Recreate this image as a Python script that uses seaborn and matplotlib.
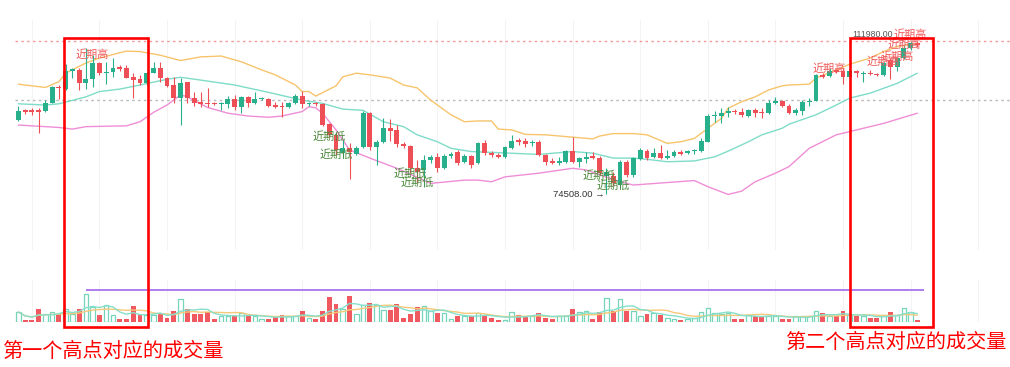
import numpy as np
import pandas as pd
import matplotlib
matplotlib.use("Agg")
import matplotlib.pyplot as plt
from matplotlib.patches import Rectangle
import seaborn as sns

# ---------------- data (prices in thousand USD) ----------------
opens = [92.6, 95.0, 95.0, 95.0, 94.8, 96.9, 100.8, 100.2, 104.7, 104.9,
         101.8, 102.7, 106.5, 104.1, 104.5, 105.5, 105.3, 103.2, 102.6, 101.6,
         104.2, 105.3, 103.0, 101.2, 97.9, 101.9, 97.9, 97.0, 96.9, 96.9,
         96.5, 96.5, 97.8, 95.9, 98.3, 96.7, 97.8, 97.8, 96.3, 96.1,
         95.8, 96.7, 98.5, 96.5, 96.9, 96.5, 91.6, 89.0, 84.5, 85.8,
         84.3, 86.1, 94.4, 86.1, 87.3, 90.7, 90.2, 86.7, 86.3, 80.9,
         80.4, 82.8, 83.6, 80.8, 83.8, 84.8, 82.3, 83.7, 82.2, 87.0,
         84.5, 84.1, 83.6, 85.8, 87.7, 87.5, 86.9, 87.3, 84.1, 82.6,
         82.2, 82.3, 85.0, 82.3, 83.1, 83.9, 83.4, 78.9, 78.9, 76.7,
         82.4, 79.1, 83.1, 85.0, 83.6, 84.5, 83.4, 83.9, 84.9, 84.5,
         85.0, 85.0, 87.3, 93.6, 93.7, 94.3, 94.8, 94.7, 93.7, 95.1,
         94.7, 94.3, 96.7, 97.3, 96.1, 94.3, 94.8, 97.0, 97.3, 103.7,
         103.5, 104.9, 104.6, 103.2, 104.6, 104.0, 104.2, 103.9, 103.7, 107.3,
         105.7, 107.7, 110.2, 111.5]
highs = [96.1, 95.3, 95.5, 95.6, 97.5, 101.0, 101.2, 106.3, 105.4, 105.3,
         110.2, 108.6, 106.9, 106.9, 107.7, 106.1, 106.1, 104.1, 103.7, 104.5,
         106.9, 106.9, 103.2, 103.2, 102.8, 102.0, 99.6, 99.6, 100.5, 97.1,
         97.1, 98.6, 98.8, 98.4, 98.4, 99.4, 98.3, 98.1, 97.1, 97.1,
         97.1, 98.9, 99.7, 97.1, 97.1, 96.8, 91.8, 89.7, 87.7, 87.0,
         86.3, 94.8, 94.6, 87.7, 93.1, 92.9, 91.4, 87.2, 86.5, 82.8,
         84.1, 84.1, 84.5, 84.3, 84.9, 85.3, 84.3, 84.1, 87.2, 87.7,
         85.0, 84.5, 86.3, 89.0, 88.3, 88.1, 87.7, 87.7, 84.3, 83.3,
         83.6, 85.3, 88.5, 83.6, 84.7, 84.7, 83.8, 80.9, 79.9, 82.8,
         82.8, 83.6, 85.8, 85.5, 85.8, 86.5, 85.3, 85.3, 85.2, 85.3,
         85.5, 88.3, 94.0, 94.8, 95.5, 95.9, 95.3, 95.6, 95.3, 95.6,
         95.5, 97.5, 98.3, 97.5, 96.6, 95.6, 97.5, 98.1, 103.9, 104.1,
         105.3, 105.2, 105.3, 104.9, 104.9, 104.6, 104.9, 104.2, 106.9, 107.7,
         108.1, 111.0, 111.98, 111.7]
lows = [92.4, 94.2, 93.9, 89.4, 94.7, 96.7, 97.8, 100.0, 102.9, 100.0,
        100.2, 100.8, 103.7, 101.4, 103.2, 104.6, 102.8, 98.1, 101.2, 101.2,
        104.1, 102.0, 100.8, 96.7, 91.4, 96.7, 96.1, 95.9, 95.9, 96.3,
        95.1, 95.6, 95.1, 94.3, 95.9, 96.5, 97.5, 95.9, 95.6, 93.4,
        95.5, 96.5, 95.5, 96.1, 96.1, 91.2, 88.5, 84.1, 83.3, 78.2,
        84.1, 85.8, 85.3, 81.6, 87.0, 87.6, 86.1, 85.8, 79.6, 77.2,
        76.3, 82.1, 80.0, 80.6, 83.3, 81.6, 82.1, 80.8, 81.9, 84.1,
        83.6, 83.3, 83.3, 85.5, 86.5, 86.1, 86.3, 83.8, 81.6, 81.9,
        81.6, 82.1, 82.1, 81.2, 82.0, 83.1, 79.1, 74.508, 76.5, 76.0,
        78.7, 78.7, 82.8, 82.8, 83.3, 83.1, 83.1, 83.6, 84.1, 84.2,
        84.2, 84.8, 87.2, 92.1, 91.8, 93.4, 94.2, 93.4, 93.4, 93.4,
        93.0, 94.2, 96.5, 95.8, 94.1, 93.9, 93.9, 96.1, 97.2, 103.0,
        103.2, 104.1, 101.4, 102.9, 103.2, 101.9, 103.7, 103.4, 103.5, 102.7,
        104.6, 107.6, 109.8, 110.5]
closes = [94.8, 94.7, 94.6, 94.7, 96.7, 100.8, 100.4, 104.6, 105.1, 101.6,
          102.7, 106.5, 104.1, 104.5, 105.4, 105.1, 103.0, 102.5, 101.6, 104.2,
          105.3, 102.8, 101.0, 97.9, 101.8, 97.9, 96.7, 96.5, 96.5, 96.5,
          96.9, 97.8, 95.7, 98.3, 96.7, 97.8, 98.1, 96.1, 95.9, 95.9,
          96.9, 98.6, 96.5, 96.9, 96.5, 91.4, 89.0, 85.3, 85.8, 84.8,
          85.8, 94.4, 86.1, 87.3, 90.7, 90.0, 86.7, 86.3, 80.9, 79.9,
          82.8, 83.6, 80.8, 83.8, 84.3, 82.1, 83.8, 81.6, 87.0, 84.5,
          84.1, 83.6, 86.0, 87.5, 87.3, 86.7, 87.3, 84.1, 82.4, 82.2,
          82.6, 85.0, 82.3, 83.2, 83.6, 83.4, 79.6, 79.9, 77.2, 82.4,
          79.1, 83.2, 85.3, 83.4, 84.5, 83.2, 83.9, 84.9, 84.4, 85.0,
          85.2, 87.5, 93.7, 93.9, 94.4, 94.8, 94.5, 93.9, 95.1, 94.3,
          94.3, 96.7, 97.3, 96.1, 94.3, 95.0, 97.1, 97.4, 103.7, 103.2,
          104.6, 104.5, 103.2, 104.6, 104.1, 104.2, 103.9, 103.6, 106.5, 105.7,
          107.7, 110.2, 111.6, 111.0]
volumes = [30, 7, 7, 40, 24, 29, 25, 39, 25, 40,
           85, 45, 22, 52, 22, 10, 10, 47, 20, 22,
           20, 25, 12, 34, 70, 39, 25, 24, 30, 10,
           17, 17, 19, 27, 19, 17, 9, 10, 17, 22,
           17, 17, 32, 12, 10, 32, 74, 54, 40, 79,
           24, 52, 57, 52, 35, 37, 55, 12, 25, 45,
           47, 32, 27, 27, 10, 17, 17, 17, 27, 22,
           12, 5, 7, 29, 22, 15, 19, 27, 12, 10,
           19, 19, 39, 29, 32, 10, 29, 73, 34, 70,
           32, 32, 19, 25, 27, 20, 12, 10, 7, 9,
           12, 30, 42, 27, 24, 27, 10, 10, 22, 19,
           19, 19, 17, 10, 10, 17, 17, 17, 32, 27,
           17, 17, 32, 22, 17, 17, 12, 12, 20, 29,
           20, 42, 29, 6]

boll_upper_idx = [0, 4, 6, 7, 10, 12, 15, 16, 18, 21, 24, 27, 30, 33, 36, 38, 41, 42, 43, 44,
                  47, 48, 50, 52, 55, 57, 59, 61, 64, 66, 68, 70, 71, 73, 75, 78, 85, 86, 88, 91,
                  93, 96, 98, 100, 102, 104, 105, 107, 109, 111, 113, 114, 117, 118, 121, 123,
                  126, 128, 130, 133]
boll_upper = [101.4, 100.6, 102.0, 104.1, 106.6, 107.8, 109.1, 109.5, 109.4, 108.5,
              107.2, 108.1, 108.3, 106.9, 104.9, 103.7, 101.2, 99.6, 99.6, 98.5,
              101.0, 103.2, 104.1, 103.7, 102.9, 101.2, 100.5, 97.5, 93.9, 92.2,
              92.4, 92.4, 90.4, 90.2, 89.1, 89.0, 88.0, 88.7, 89.3, 89.3,
              89.0, 86.9, 87.3, 88.1, 90.6, 93.0, 95.5, 97.1, 98.3, 100.0,
              101.0, 101.2, 101.4, 102.9, 104.9, 106.3, 107.8, 109.4, 110.6, 111.4]
boll_mid_idx = [0, 4, 6, 10, 12, 15, 18, 22, 24, 27, 32, 37, 42, 45, 48, 51, 54, 57, 59, 62,
                64, 67, 70, 77, 82, 85, 88, 91, 93, 96, 100, 103, 105, 108, 110, 113, 114,
                118, 121, 123, 126, 130, 133]
boll_mid = [96.6, 96.3, 96.6, 98.3, 99.6, 100.2, 101.2, 102.6, 103.1, 102.4,
            101.2, 99.4, 97.5, 96.7, 95.3, 95.0, 92.2, 91.0, 89.0, 87.3,
            85.7, 84.9, 84.7, 84.2, 84.9, 84.5, 83.3, 83.3, 83.0, 82.4,
            82.6, 83.6, 85.0, 87.3, 89.0, 90.6, 91.6, 93.9, 96.3, 98.0,
            99.2, 101.6, 104.1]
boll_lower_idx = [0, 6, 8, 10, 16, 18, 20, 22, 24, 25, 28, 31, 34, 37, 39, 42, 43, 44, 45, 47,
                  49, 52, 56, 61, 66, 68, 70, 72, 77, 82, 84, 86, 89, 91, 100, 102, 105, 107,
                  109, 112, 114, 117, 121, 123, 128, 133]
boll_lower = [91.4, 90.8, 90.4, 91.0, 91.2, 92.2, 94.5, 96.3, 98.8, 98.3,
              95.7, 94.3, 93.6, 93.3, 93.6, 94.7, 95.9, 95.6, 94.3, 90.2,
              85.3, 83.3, 80.8, 77.1, 77.9, 77.9, 77.5, 78.7, 79.6, 80.8,
              80.4, 79.2, 77.5, 76.7, 77.8, 76.3, 74.4, 75.2, 77.5, 79.6,
              81.2, 85.7, 89.0, 89.8, 91.8, 94.3]

recent_high_idx = [11, 120, 128, 130, 131]
recent_low_idx = [46, 47, 58, 59, 86, 88]
ref_price = 97.53
vol_ref_level = 96
vol_ref_span = [10, 134]
high_label = "近期高"
low_label = "近期低"
caption_left = "第一个高点对应的成交量"
caption_right = "第二个高点对应的成交量"

# ---------------- style ----------------
sns.set_theme(style="white")
plt.rcParams['font.family'] = ['Noto Sans CJK SC', 'DejaVu Sans']

W, H = 1010, 367
fig = plt.figure(figsize=(W / 100, H / 100), dpi=100)
fig.patch.set_facecolor('white')


def fx(px):
    return px / W


def fy(py):
    return 1 - py / H


df = pd.DataFrame(dict(i=np.arange(len(opens)), open=opens, high=highs,
                       low=lows, close=closes, vol=volumes))
df['up'] = df['close'] >= df['open']

xlim = (-0.49, 146.7)
ax = fig.add_axes([fx(15), fy(250), fx(1010) - fx(15), fy(20) - fy(250)])
axv = fig.add_axes([fx(15), fy(322), fx(1010) - fx(15), fy(280) - fy(322)])
for a in (ax, axv):
    a.set_xlim(*xlim)
    a.axis('off')
    for g in range(2, 147, 10):
        a.axvline(g, color='#f3f3f3', lw=0.8, zorder=0)
ax.set_ylim(60.78, 117.13)
axv.set_ylim(0, 126)

up_c, dn_c = '#27b08b', '#ee4f56'
cols = np.where(df['up'], up_c, dn_c)

# reference lines
ax.axhline(df['high'].max(), color='#f29a9a', lw=1.0, ls=(0, (1.8, 2.4)), zorder=1)
ax.axhline(ref_price, color='#b8b8b8', lw=1.0, ls=(0, (1.8, 2.4)), zorder=1)

# bollinger
sns.lineplot(x=boll_upper_idx, y=boll_upper, ax=ax, color='#f7c46c', lw=1.0,
             sort=False, estimator=None, zorder=2)
sns.lineplot(x=boll_mid_idx, y=boll_mid, ax=ax, color='#7fdcc9', lw=1.0,
             sort=False, estimator=None, zorder=2)
sns.lineplot(x=boll_lower_idx, y=boll_lower, ax=ax, color='#ef8ed6', lw=1.0,
             sort=False, estimator=None, zorder=2)

# candles
ax.vlines(df['i'], df['low'], df['high'], colors=cols, lw=0.8, zorder=3)
body_lo = np.minimum(df['open'], df['close'])
body_h = np.maximum(np.abs(df['close'] - df['open']), 0.25)
ax.bar(df['i'], body_h, bottom=body_lo, width=0.72, color=cols, lw=0, zorder=4)
ax.set_xlim(*xlim)
ax.set_ylim(60.78, 117.13)
ax.axis('off')

# labels
for i in recent_high_idx:
    ax.text(i, highs[i], high_label, color='#f25d5d', fontsize=8, ha='center',
            va='center', zorder=6)
for i in recent_low_idx:
    ax.text(i, lows[i], low_label, color='#4d8a3c', fontsize=8, ha='center',
            va='center', zorder=6)
imax = int(df['high'].idxmax())
hmax = df['high'].max()
ax.annotate(high_label, (imax, hmax), xytext=(0, 4.5), textcoords='offset points',
            ha='center', va='center', color='#f25d5d', fontsize=8, zorder=6)
ax.annotate(f"{hmax * 1000:.2f}", (imax, hmax), xytext=(-12.5, 4.5),
            textcoords='offset points', ha='right', va='center', color='#555555',
            fontsize=6.3, family=['Liberation Sans', 'DejaVu Sans'], zorder=6)
imin = int(df['low'].idxmin())
lmin = df['low'].min()
ax.annotate(f"{lmin * 1000:.2f} \u2192", (imin, lmin), xytext=(-1, -0.5),
            textcoords='offset points', ha='right', va='center', color='#333333',
            fontsize=6.8, family=['Liberation Sans', 'DejaVu Sans'], zorder=6)

# volume
upd = df[df['up']]
dnd = df[~df['up']]
axv.bar(upd['i'], upd['vol'], width=0.68, facecolor='white', edgecolor='#74d5ba',
        lw=0.9, zorder=2)
axv.bar(dnd['i'], dnd['vol'], width=0.72, color='#f0595f', lw=0, zorder=2)
ma5 = df['vol'].rolling(5, min_periods=1).mean()
ma10 = df['vol'].rolling(10, min_periods=1).mean()
sns.lineplot(x=df['i'], y=ma10, ax=axv, color='#f5c97a', lw=1.0, zorder=3)
sns.lineplot(x=df['i'], y=ma5, ax=axv, color='#86dfcb', lw=1.0, zorder=3)
axv.hlines(vol_ref_level, vol_ref_span[0], vol_ref_span[1], color='#b07cf0', lw=1.4,
           zorder=3)
axv.set_xlim(*xlim)
axv.set_ylim(0, 126)
axv.axis('off')

# annotation boxes and captions
for (l, r) in [(64.2, 147.5), (850.0, 933.2)]:
    b = 326.5
    fig.add_artist(Rectangle((fx(l), fy(b)), fx(r) - fx(l), fy(37.5) - fy(b),
                             transform=fig.transFigure, fill=False,
                             edgecolor='#ff0000', lw=1.9, zorder=20))
fig.text(fx(2), fy(351), caption_left, color='#ff0000', fontsize=14.5,
         ha='left', va='center')
fig.text(fx(785), fy(342), caption_right, color='#ff0000', fontsize=14.5,
         ha='left', va='center')

fig.savefig('out.png', dpi=100, facecolor='white')
